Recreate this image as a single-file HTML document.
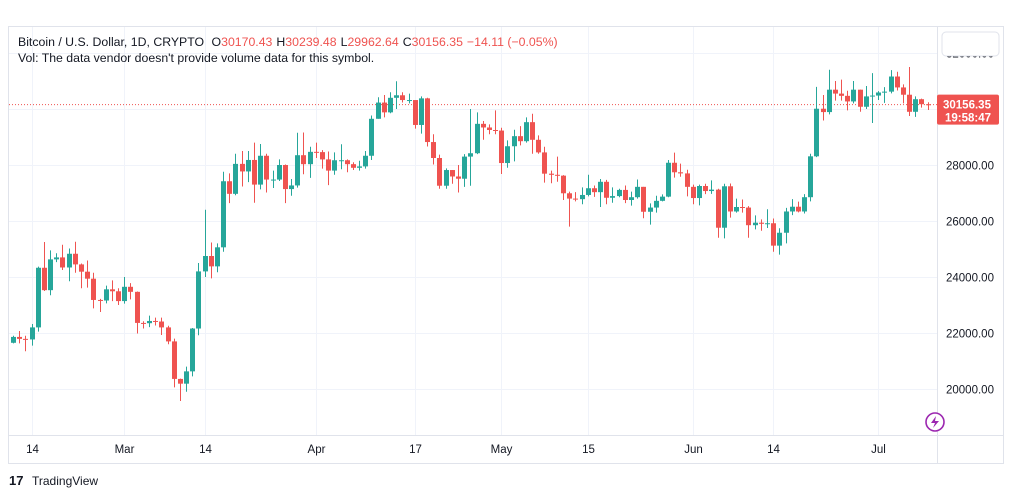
<!DOCTYPE html>
<html><head><meta charset="utf-8"><style>
body{margin:0;width:1012px;height:498px;background:#fff;overflow:hidden;font-family:"Liberation Sans",sans-serif;}
</style></head><body>
<svg id="chart" width="1012" height="498" xmlns="http://www.w3.org/2000/svg">
<rect x="8.5" y="26.5" width="995" height="437" fill="#fff" stroke="#e0e3eb"/>
<g id="grid"></g>
<g id="candles"></g>
<line x1="937.5" y1="27" x2="937.5" y2="463" stroke="#e0e3eb"/>
<line x1="9" y1="435.5" x2="1003" y2="435.5" stroke="#e0e3eb"/>
<g id="yticks"></g>
<g id="xticks"></g>
<rect x="942" y="32" width="57" height="24" rx="4" fill="#fff" stroke="#e0e3eb"/>
<text x="18" y="46" font-size="12.3" fill="#131722">Bitcoin / U.S. Dollar, 1D, CRYPTO <tspan dx="4">O</tspan><tspan fill="#ef5350">30170.43</tspan><tspan dx="4">H</tspan><tspan fill="#ef5350">30239.48</tspan><tspan dx="4">L</tspan><tspan fill="#ef5350">29962.64</tspan><tspan dx="4">C</tspan><tspan fill="#ef5350">30156.35</tspan><tspan dx="4" fill="#ef5350">−14.11 (−0.05%)</tspan></text>
<text x="18" y="62" font-size="12.3" fill="#131722">Vol: The data vendor doesn't provide volume data for this symbol.</text>
<circle cx="935" cy="422" r="9" fill="#fff" stroke="#9c27b0" stroke-width="1.6"/>
<path d="M936 416 L931 423 L935 423 L933 428 L939 421 L935 421 Z" fill="#9c27b0"/>
<g>
<text x="9" y="485" font-size="13" font-weight="bold" fill="#131722">17</text>
<text x="32" y="485" font-size="12" fill="#131722">TradingView</text>
</g>
</svg>
<script>
const closes=[21860,21790,21770,22200,24330,23530,24630,24700,24340,24830,24450,24190,23940,23180,23160,23560,23490,23140,
23650,23470,22360,22350,22430,22410,22200,21700,20360,20190,20630,22160,24200,24750,24380,25060,27420,26970,28040,27770,28180,27300,28330,27480,27480,28000,27140,27270,28350,28030,28470,
28460,28200,27800,28170,28170,28030,27900,27950,28330,29650,30230,29880,30400,30490,30320,30320,29430,30380,28820,28250,27260,27820,27590,27510,28300,28420,29470,29340,29250,29230,
28070,28670,29030,28850,29530,28900,28450,27690,27650,27620,26990,26800,26780,26930,27170,27030,27400,26830,26890,27110,26750,26850,27220,26330,26480,26720,26870,28080,27740,27700,27220,
26820,27250,27070,27120,25760,27240,26340,26500,26480,25850,25940,25900,25920,25120,25580,26340,26510,26340,26850,28310,30010,29890,30690,30550,30470,30270,30690,30080,30450,30480,
30590,30620,31160,30770,30510,29900,30350,30170,30156.35];
const highs=[21900,22070,21900,22320,24370,25250,24950,24850,25150,25020,25260,24480,24590,24150,23220,23690,23880,23600,
24000,23780,23480,22420,22620,22550,22550,22260,21800,20370,20800,22180,24500,26400,25230,25200,27760,27700,28400,28500,28500,28800,28750,28400,27800,28200,28020,27500,29150,29160,28650,
28800,28530,28480,28450,28740,28200,28100,28150,28500,29770,30420,30500,30600,30990,30600,30550,30310,30450,30400,29100,28370,27880,27820,28000,28390,30000,29880,29570,29450,29950,
29330,28880,29260,29390,29700,29830,29060,28650,27800,28300,27640,27050,27030,27200,27650,27270,27500,27470,27200,27150,27270,27050,27480,27220,26630,26900,26950,28180,28440,28050,27830,
27300,27300,27330,27450,27150,27330,27340,26800,26770,26530,26200,26060,26420,26090,25740,26470,26780,26690,26960,28400,30790,30500,31400,31000,31050,30650,31000,30690,30820,31280,
30640,30780,31390,31330,30880,31500,30450,30370,30239];
const lows=[21630,21630,21350,21550,22050,23500,23350,24530,24250,23850,24150,23600,23620,22880,22750,23060,23140,23000,
23050,23200,21980,22160,22210,22270,21930,21600,20060,19570,19900,20450,21920,24000,23950,24170,24900,26640,26920,27230,27390,26650,27130,27020,27180,27430,26640,26900,27190,27670,27540,
28250,27870,27280,27650,27850,27740,27820,27800,27870,28180,29650,29700,29850,30000,30230,30200,29300,29120,28660,28020,27150,27150,27330,27020,27220,27260,28390,28900,29100,29100,
27680,27900,28130,28700,28800,28400,28400,27370,27350,27400,26750,25800,26700,26600,26880,26860,26500,26600,26650,26850,26640,26550,26800,26100,25870,26300,26700,26850,27550,27580,26880,
26600,26560,26960,26970,25400,25380,26120,26300,26300,25400,25700,25650,25750,24900,24800,25200,26210,26310,26270,26700,28280,29590,29810,30300,30300,29950,30200,29900,30000,29500,
30320,30220,30560,30660,30200,29750,29720,30050,29962.64];
const firstOpen=21650;
const priceTicks=[20000,22000,24000,26000,28000,30000,32000];
const timeLabels=["14","Mar","14","Apr","17","May","15","Jun","14","Jul"];
const timeLabelDays=[3,18,31,49,65,79,93,110,123,140];
const lastPrice=30156.35;

const NS="http://www.w3.org/2000/svg";
const y=p=>389-(p-20000)*0.028;
const x=i=>13+i*6.18;
function mk(t,a,parent){const e=document.createElementNS(NS,t);for(const k in a)e.setAttribute(k,a[k]);parent.appendChild(e);return e;}
const grid=document.getElementById('grid'),yt=document.getElementById('yticks'),xt=document.getElementById('xticks'),cg=document.getElementById('candles');
priceTicks.forEach(p=>{
  const yy=Math.round(y(p))+0.5;
  const l=mk('line',{x1:9,x2:937,y1:yy,y2:yy,stroke:'#f0f3fa'},grid);
  
  
  const t=mk('text',{x:946,y:yy+4,'font-size':11.5,fill:'#131722'},yt);
  t.textContent=p.toFixed(2);
  
  
});
timeLabels.forEach((s,k)=>{
  const xx=Math.round(x(timeLabelDays[k]))+0.5;
  const l=mk('line',{x1:xx,x2:xx,y1:27,y2:435,stroke:'#f0f3fa'},grid);
  
  
  const t=mk('text',{x:xx,y:453,'font-size':11.5,fill:'#131722','text-anchor':'middle'},xt);
  t.textContent=s;
  
  
});
closes.forEach((c,i)=>{
  const o=i===0?firstOpen:closes[i-1];
  const col=c>=o?'#26a69a':'#ef5350';
  const cx=Math.round(x(i))+0.5;
  const g=mk('g',{},cg);
  
  
  mk('line',{x1:cx,x2:cx,y1:y(highs[i]),y2:y(lows[i]),stroke:col,'stroke-width':1},g);
  const top=y(Math.max(o,c)),h=Math.max(1,y(Math.min(o,c))-top);
  mk('rect',{x:cx-2.5,y:top,width:5,height:h,fill:col},g);
});
const ly=y(lastPrice);
const pl=mk('line',{x1:9,x2:937,y1:ly,y2:ly,stroke:'#ef5350','stroke-dasharray':'1 2'},grid);


const lb=mk('g',{},document.getElementById('chart'));


mk('rect',{x:937,y:ly-10,width:62,height:30,rx:2,fill:'#ef5350'},lb);
const t1=mk('text',{x:943,y:ly+4,'font-size':11.5,'font-weight':'bold',fill:'#fff'},lb);t1.textContent=lastPrice.toFixed(2);
const t2=mk('text',{x:945,y:ly+17,'font-size':11.5,'font-weight':'bold',fill:'#fff'},lb);t2.textContent='19:58:47';
</script>
</body></html>
